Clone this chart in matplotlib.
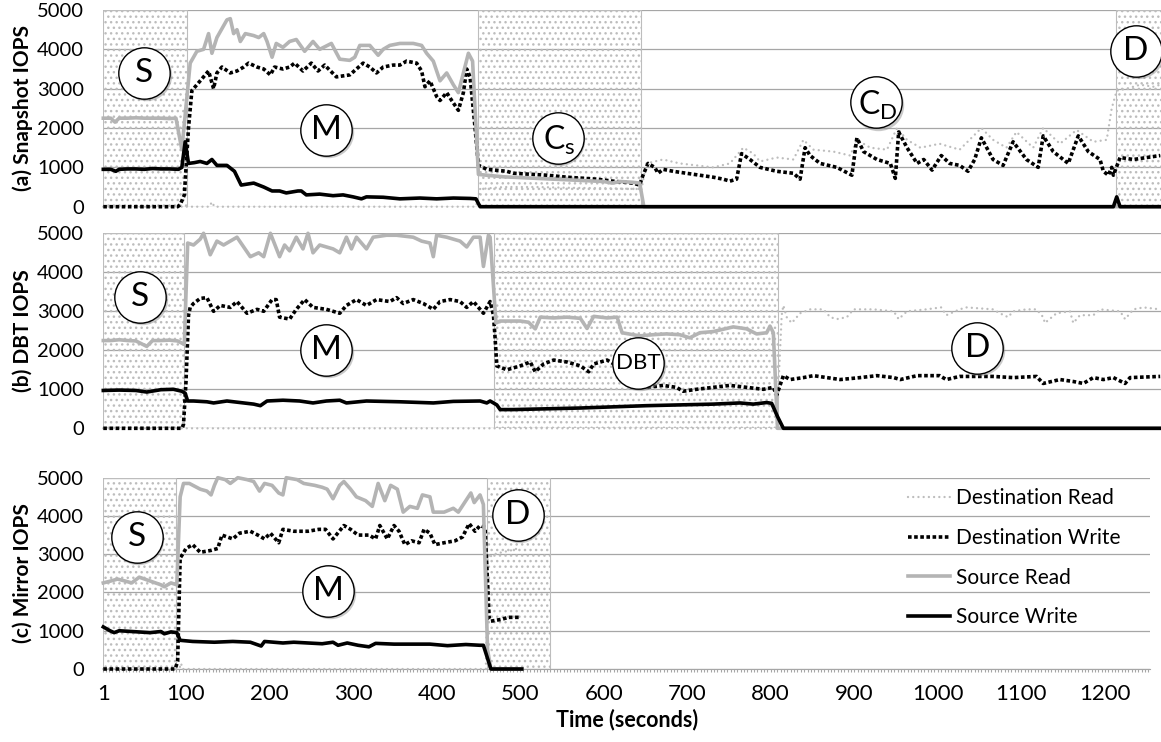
import matplotlib
matplotlib.use("Agg")
import matplotlib.pyplot as plt
from matplotlib.lines import Line2D
from matplotlib.ticker import MultipleLocator
from matplotlib.transforms import offset_copy

plt.rcParams['font.family'] = ['Lato', 'DejaVu Sans']
plt.rcParams['mathtext.fontset'] = 'custom'
plt.rcParams['mathtext.rm'] = 'Lato'

# ---- data: (time, IOPS) ----
# (a) Snapshot
dst_read_a = [(1, 0), (128, 0), (131, 120), (134, 0), (447, 0), (452, 450), (480, 500), (520, 500),
              (560, 480), (600, 470), (640, 450), (645, 430), (651, 1100), (671, 1200), (691, 1100),
              (711, 1050), (731, 1000), (751, 1100), (767, 1500), (779, 1350), (787, 1150), (807, 1250),
              (827, 1200), (839, 1700), (851, 1450), (875, 1400), (895, 1300), (903, 1700), (919, 1500),
              (939, 1450), (951, 2000), (963, 1700), (979, 1500), (1002, 1600), (1026, 1450), (1052, 2000),
              (1066, 1700), (1082, 1500), (1094, 1900), (1114, 1500), (1126, 2000), (1146, 1600),
              (1166, 1950), (1186, 1650), (1202, 1700), (1208, 2500), (1214, 2950), (1226, 3000),
              (1242, 3100), (1258, 3050), (1266, 3100)]
dst_write_a = [(1, 0), (90, 0), (93, 50), (98, 300), (103, 2000), (107, 2950), (113, 3100), (121, 3300),
               (127, 3450), (133, 3000), (137, 3400), (143, 3550), (153, 3400), (161, 3450), (169, 3550),
               (175, 3650), (185, 3550), (193, 3500), (201, 3350), (206, 3550), (216, 3500), (224, 3550),
               (230, 3650), (240, 3450), (250, 3650), (258, 3450), (266, 3600), (280, 3300), (296, 3350),
               (304, 3500), (312, 3650), (320, 3550), (328, 3400), (336, 3550), (348, 3600), (356, 3600),
               (364, 3700), (376, 3650), (382, 3450), (386, 3050), (392, 3200), (400, 2800), (404, 2700),
               (412, 2900), (418, 2700), (426, 2450), (432, 2900), (436, 3500), (440, 3300), (446, 2000),
               (450, 1050), (460, 950), (484, 900), (492, 850), (532, 800), (556, 750), (591, 700),
               (611, 650), (635, 600), (643, 550), (647, 800), (653, 1100), (661, 1000), (665, 850),
               (671, 950), (683, 900), (699, 850), (715, 800), (731, 750), (743, 700), (751, 650),
               (759, 700), (765, 1350), (775, 1200), (787, 1000), (807, 900), (827, 850), (835, 700),
               (841, 1500), (847, 1300), (859, 1100), (879, 1000), (897, 800), (903, 1750), (911, 1400),
               (927, 1200), (943, 1100), (949, 720), (953, 1900), (963, 1500), (975, 1100), (983, 1200),
               (993, 930), (1004, 1300), (1014, 1100), (1026, 1050), (1036, 900), (1044, 1200),
               (1052, 1750), (1066, 1200), (1078, 1050), (1090, 1650), (1106, 1200), (1120, 1000),
               (1126, 1800), (1138, 1400), (1156, 1100), (1168, 1800), (1180, 1400), (1194, 1200),
               (1198, 900), (1204, 800), (1208, 1000), (1210, 800), (1218, 1250), (1234, 1200),
               (1250, 1250), (1266, 1300)]
src_read_a = [(1, 2250), (10, 2250), (15, 2150), (20, 2250), (30, 2250), (40, 2260), (50, 2250),
              (60, 2250), (70, 2250), (80, 2240), (88, 2250), (95, 1450), (105, 3650), (113, 3950),
              (121, 4000), (127, 4400), (131, 3900), (137, 4300), (149, 4750), (153, 4780), (157, 4400),
              (161, 4500), (165, 4200), (171, 4400), (181, 4350), (187, 4300), (193, 4400), (197, 4200),
              (203, 3800), (208, 4150), (216, 4050), (224, 4200), (232, 4250), (242, 3950), (252, 4200),
              (260, 4000), (274, 4150), (284, 3750), (296, 3720), (302, 3800), (308, 4100), (320, 4100),
              (330, 3850), (336, 4000), (344, 4100), (356, 4150), (372, 4150), (382, 4100), (388, 3900),
              (396, 3700), (404, 3200), (412, 3400), (420, 3100), (426, 2900), (432, 3400), (438, 3900),
              (443, 3700), (450, 820), (460, 800), (480, 760), (500, 740), (520, 720), (540, 700),
              (560, 680), (580, 660), (600, 640), (610, 600), (620, 640), (635, 620), (643, 600),
              (648, 0), (1266, 0)]
src_write_a = [(1, 950), (10, 950), (16, 900), (20, 950), (30, 960), (40, 960), (50, 950), (60, 970),
               (70, 960), (80, 960), (91, 950), (95, 1000), (99, 1650), (103, 1100), (110, 1120),
               (117, 1150), (125, 1100), (131, 1200), (137, 1050), (149, 1050), (158, 900), (166, 550),
               (175, 580), (181, 600), (193, 500), (203, 400), (212, 400), (220, 350), (234, 400),
               (238, 400), (244, 300), (260, 320), (276, 280), (288, 300), (300, 250), (310, 200),
               (316, 250), (336, 240), (356, 200), (380, 220), (400, 200), (420, 220), (440, 210),
               (447, 200), (452, 0), (1210, 0), (1214, 250), (1218, 0), (1266, 0)]

# (b) DBT
dst_read_b = [(1, 0), (807, 0), (810, 1500), (813, 2900), (815, 3150), (819, 2850), (825, 2700),
              (835, 2950), (847, 3050), (863, 3050), (871, 2850), (879, 2800), (891, 2850), (899, 3050),
              (923, 3050), (947, 3000), (953, 2800), (963, 3000), (986, 3050), (1004, 3100), (1010, 2900),
              (1026, 3050), (1034, 3100), (1066, 3050), (1074, 2950), (1084, 2850), (1090, 3000),
              (1106, 3050), (1118, 3050), (1126, 2850), (1128, 2700), (1142, 2950), (1158, 3000),
              (1162, 2700), (1170, 2900), (1186, 2900), (1194, 3050), (1218, 3000), (1224, 2800),
              (1234, 3050), (1246, 3100), (1266, 3050)]
dst_write_b = [(1, 0), (95, 0), (97, 100), (100, 1200), (103, 2900), (105, 3100), (109, 3200),
               (117, 3330), (125, 3350), (133, 3000), (141, 3150), (153, 3100), (161, 3250), (173, 2950),
               (185, 3050), (193, 3000), (203, 3300), (208, 3300), (212, 2850), (224, 2800), (232, 3050),
               (242, 3300), (252, 3100), (268, 3050), (284, 2950), (292, 3150), (304, 3300), (316, 3150),
               (328, 3300), (344, 3250), (352, 3350), (360, 3200), (372, 3300), (384, 3200), (396, 3050),
               (404, 3250), (416, 3300), (428, 3250), (436, 3100), (444, 3250), (452, 3050), (456, 2950),
               (464, 3250), (468, 2900), (470, 2300), (472, 1600), (484, 1500), (500, 1600), (512, 1700),
               (518, 1450), (528, 1650), (540, 1750), (556, 1700), (572, 1600), (582, 1450), (588, 1650),
               (604, 1750), (616, 1600), (620, 1250), (631, 1100), (651, 1050), (671, 1100), (687, 1050),
               (695, 950), (711, 1000), (731, 1050), (751, 1100), (771, 1050), (791, 1000), (803, 1050),
               (807, 850), (811, 1100), (815, 1350), (823, 1250), (839, 1300), (851, 1350), (867, 1300),
               (883, 1250), (907, 1300), (927, 1350), (947, 1300), (955, 1250), (975, 1350), (1002, 1350),
               (1010, 1250), (1026, 1330), (1066, 1330), (1090, 1300), (1118, 1330), (1126, 1150),
               (1146, 1250), (1162, 1200), (1174, 1150), (1186, 1300), (1198, 1250), (1210, 1300),
               (1224, 1150), (1230, 1300), (1266, 1330)]
src_read_b = [(1, 2250), (10, 2250), (20, 2270), (30, 2250), (40, 2240), (53, 2100), (60, 2250),
              (70, 2250), (80, 2260), (90, 2240), (98, 2150), (102, 4750), (109, 4700), (117, 4850),
              (121, 5000), (129, 4450), (137, 4800), (145, 4700), (161, 4900), (177, 4400), (187, 4500),
              (193, 4400), (201, 5000), (212, 4400), (218, 4700), (224, 4550), (232, 4900), (240, 4600),
              (246, 5000), (252, 4500), (260, 4700), (276, 4600), (284, 4500), (292, 4900), (298, 4600),
              (304, 4900), (316, 4600), (324, 4900), (340, 4950), (352, 4950), (372, 4900), (382, 4800),
              (392, 4750), (396, 4400), (400, 4950), (412, 4900), (428, 4800), (436, 4650), (444, 4900),
              (452, 4900), (456, 4150), (462, 4950), (464, 4900), (471, 2700), (476, 2750), (500, 2750),
              (510, 2720), (518, 2550), (524, 2850), (540, 2830), (556, 2850), (572, 2820), (580, 2560),
              (588, 2870), (604, 2830), (616, 2850), (622, 2450), (643, 2370), (659, 2400), (675, 2420),
              (691, 2400), (703, 2320), (715, 2450), (731, 2480), (755, 2600), (771, 2550), (783, 2420),
              (795, 2450), (799, 2620), (803, 2450), (808, 0), (1266, 0)]
src_write_b = [(1, 970), (20, 980), (40, 970), (53, 930), (70, 990), (85, 1000), (95, 950), (99, 900),
               (102, 700), (109, 700), (125, 680), (133, 650), (149, 700), (181, 620), (189, 580),
               (197, 700), (216, 720), (236, 700), (252, 650), (268, 700), (284, 720), (292, 650),
               (316, 700), (356, 680), (396, 650), (420, 690), (452, 700), (460, 650), (464, 700),
               (472, 600), (476, 480), (492, 480), (532, 500), (572, 520), (611, 550), (651, 580),
               (691, 600), (731, 620), (763, 650), (779, 620), (795, 660), (801, 640), (808, 300),
               (815, 0), (1266, 0)]

# (c) Mirror
dst_read_c = [(1, 0), (92, 0), (94, 150), (96, 0), (459, 0), (461, 2900), (469, 3000), (478, 3050),
              (489, 3100), (497, 3150)]
dst_write_c = [(1, 0), (87, 0), (90, 200), (93, 2900), (96, 3000), (100, 3150), (108, 3250), (117, 3050),
               (130, 3100), (138, 3150), (143, 3500), (156, 3400), (164, 3550), (177, 3600), (186, 3500),
               (194, 3400), (201, 3550), (211, 3300), (216, 3650), (229, 3600), (246, 3600), (259, 3650),
               (267, 3650), (276, 3400), (289, 3750), (297, 3650), (306, 3500), (319, 3500), (327, 3400),
               (332, 3750), (341, 3400), (349, 3750), (355, 3600), (362, 3250), (370, 3350), (379, 3300),
               (385, 3650), (392, 3550), (398, 3250), (409, 3300), (422, 3350), (431, 3450), (439, 3800),
               (446, 3600), (452, 3750), (458, 3700), (463, 1300), (465, 1250), (478, 1300), (486, 1350),
               (499, 1350)]
src_read_c = [(1, 2250), (10, 2300), (18, 2350), (27, 2300), (35, 2250), (44, 2400), (57, 2300),
              (70, 2200), (74, 2150), (78, 2200), (82, 2250), (89, 2200), (93, 4500), (97, 4850),
              (104, 4850), (117, 4700), (125, 4650), (130, 4550), (134, 4800), (138, 5000), (147, 4950),
              (153, 4850), (162, 5000), (173, 4950), (181, 4900), (188, 4650), (194, 4850), (203, 4800),
              (211, 4600), (216, 4550), (220, 5000), (233, 4950), (241, 4850), (254, 4800), (263, 4750),
              (269, 4700), (276, 4450), (284, 4800), (289, 4900), (297, 4700), (304, 4500), (315, 4400),
              (323, 4250), (330, 4850), (338, 4400), (345, 4800), (353, 4700), (360, 4100), (368, 4250),
              (377, 4200), (383, 4550), (392, 4500), (396, 4100), (409, 4100), (420, 4200), (426, 4100),
              (432, 4300), (441, 4600), (445, 4350), (452, 4550), (456, 4300), (461, 500), (465, 0),
              (502, 0)]
src_write_c = [(1, 1100), (5, 1050), (9, 1000), (14, 950), (20, 1000), (35, 980), (57, 950), (70, 980),
               (74, 920), (82, 970), (89, 950), (93, 750), (108, 720), (134, 700), (156, 720), (177, 700),
               (190, 600), (194, 720), (216, 680), (229, 700), (246, 680), (263, 660), (276, 700),
               (282, 620), (293, 680), (306, 620), (319, 580), (327, 670), (349, 650), (392, 650),
               (413, 610), (435, 640), (452, 620), (456, 620), (465, 0), (502, 0)]

# phases: (start, end) in seconds
phases_a = [(1, 101), (449, 645), (1213, 1300)]
phases_b = [(1, 98), (469, 808)]
phases_c = [(1, 88), (460, 536)]

# bubble labels: (time, IOPS, text)
bubbles_a = [(50, 3400, 'S'), (268, 1950, 'M'), (545, 1750, r'C$_\mathrm{s}$'),
             (926, 2650, r'C$_\mathrm{D}$'), (1237, 3950, 'D')]
bubbles_b = [(45, 3370, 'S'), (268, 2010, 'M'), (641, 1670, 'DBT'), (1047, 2060, 'D')]
bubbles_c = [(41, 3450, 'S'), (270, 2050, 'M'), (497, 4020, 'D')]

xticks = [1, 100, 200, 300, 400, 500, 600, 700, 800, 900, 1000, 1100, 1200]
ylabels = ['(a) Snapshot IOPS', '(b) DBT IOPS', '(c) Mirror IOPS']

# ---- styles ----
styles = {
    'dr': dict(color='#bdbdbd', lw=1.7, dashes=(0.01, 2.2), dash_capstyle='round', zorder=3),
    'dw': dict(color='black', lw=2.6, dashes=(1, 0.7), dash_capstyle='butt', zorder=4),
    'sr': dict(color='#b4b4b4', lw=2.6, solid_joinstyle='round', zorder=5),
    'sw': dict(color='black', lw=2.6, solid_joinstyle='round', zorder=6),
}

W, H = 1161, 742
fig = plt.figure(figsize=(W / 100, H / 100), dpi=100)


def px_axes(left, top, right, bottom):
    return fig.add_axes([left / W, 1 - bottom / H, (right - left) / W, (bottom - top) / H])


ax_a = px_axes(103.3, 10, 1161, 206.7)
ax_b = px_axes(103.3, 233.3, 1161, 428.3)
ax_c = px_axes(103.3, 477.7, 1150, 669)


def bubble(ax, t, v, text):
    shadow = offset_copy(ax.transData, fig=fig, x=1.2, y=-1.5, units='points')
    ax.plot(t, v, 'o', ms=37, mfc='#888888', mec='none', alpha=0.45,
            transform=shadow, zorder=9, clip_on=False)
    ax.plot(t, v, 'o', ms=37, mfc='white', mec='black', mew=1.0, zorder=10, clip_on=False)
    if text.startswith('C$'):
        ax.annotate(text, (t, v), xytext=(1, -2), textcoords='offset points',
                    ha='center', va='center', fontsize=23, zorder=11)
    else:
        fs = 16 if len(text) > 1 else 24
        ax.text(t, v, text, ha='center', va='center', fontsize=fs, zorder=11)


def draw_panel(ax, series, phases, bubbles, xmax):
    ax.set_xlim(1, xmax)
    ax.set_ylim(0, 5000)
    ax.set_yticks(range(0, 5001, 1000))
    ax.tick_params(axis='y', length=0, pad=14, labelsize=14.5)
    ax.grid(axis='y', color='#a6a6a6', lw=0.9)
    ax.set_axisbelow(True)
    for s in ax.spines.values():
        s.set_visible(False)
    for x0, x1 in phases:
        ax.axvspan(x0, x1, facecolor='none', edgecolor='#bdbdbd', hatch='...', lw=0.8, zorder=1)
    for key, pts in series:
        t, v = zip(*pts)
        ax.plot(t, v, clip_on=False, **styles[key])
    for t, v, text in bubbles:
        bubble(ax, t, v, text)


draw_panel(ax_a, [('dr', dst_read_a), ('dw', dst_write_a), ('sr', src_read_a), ('sw', src_write_a)],
           phases_a, bubbles_a, 1267)
draw_panel(ax_b, [('dr', dst_read_b), ('dw', dst_write_b), ('sr', src_read_b), ('sw', src_write_b)],
           phases_b, bubbles_b, 1267)
draw_panel(ax_c, [('dr', dst_read_c), ('dw', dst_write_c), ('sr', src_read_c), ('sw', src_write_c)],
           phases_c, bubbles_c, 1254)

for ax in (ax_a, ax_b):
    ax.set_xticks([])

ax_c.spines['bottom'].set_visible(True)
ax_c.spines['bottom'].set_color('#a6a6a6')
ax_c.set_xticks(xticks)
ax_c.set_xticklabels([str(x) for x in xticks])
ax_c.xaxis.set_minor_locator(MultipleLocator(4))
ax_c.tick_params(axis='x', which='both', direction='out', length=2.5, width=0.8,
                 color='#a6a6a6', pad=8, labelsize=16)

# y labels and x label
for ax, lab in zip((ax_a, ax_b, ax_c), ylabels):
    bb = ax.get_position()
    fig.text(23 / W, bb.y0 + bb.height / 2, lab, rotation=90, ha='center', va='center',
             fontsize=15, fontweight='bold')
fig.text(627 / W, 1 - 720 / H, 'Time (seconds)', ha='center', va='center',
         fontsize=15.5, fontweight='bold')

# legend
handles = [Line2D([], [], **{k: v for k, v in styles[key].items() if k != 'zorder'})
           for key in ('dr', 'dw', 'sr', 'sw')]
labels = ['Destination Read', 'Destination Write', 'Source Read', 'Source Write']
ax_c.legend(handles, labels, loc='upper left', bbox_to_anchor=(908 / W, 1 - 488 / H),
            bbox_transform=fig.transFigure, frameon=False, fontsize=15, handlelength=2.0,
            handletextpad=0.3, labelspacing=0.95, borderpad=0, borderaxespad=0)

fig.savefig('out.png', dpi=100)
